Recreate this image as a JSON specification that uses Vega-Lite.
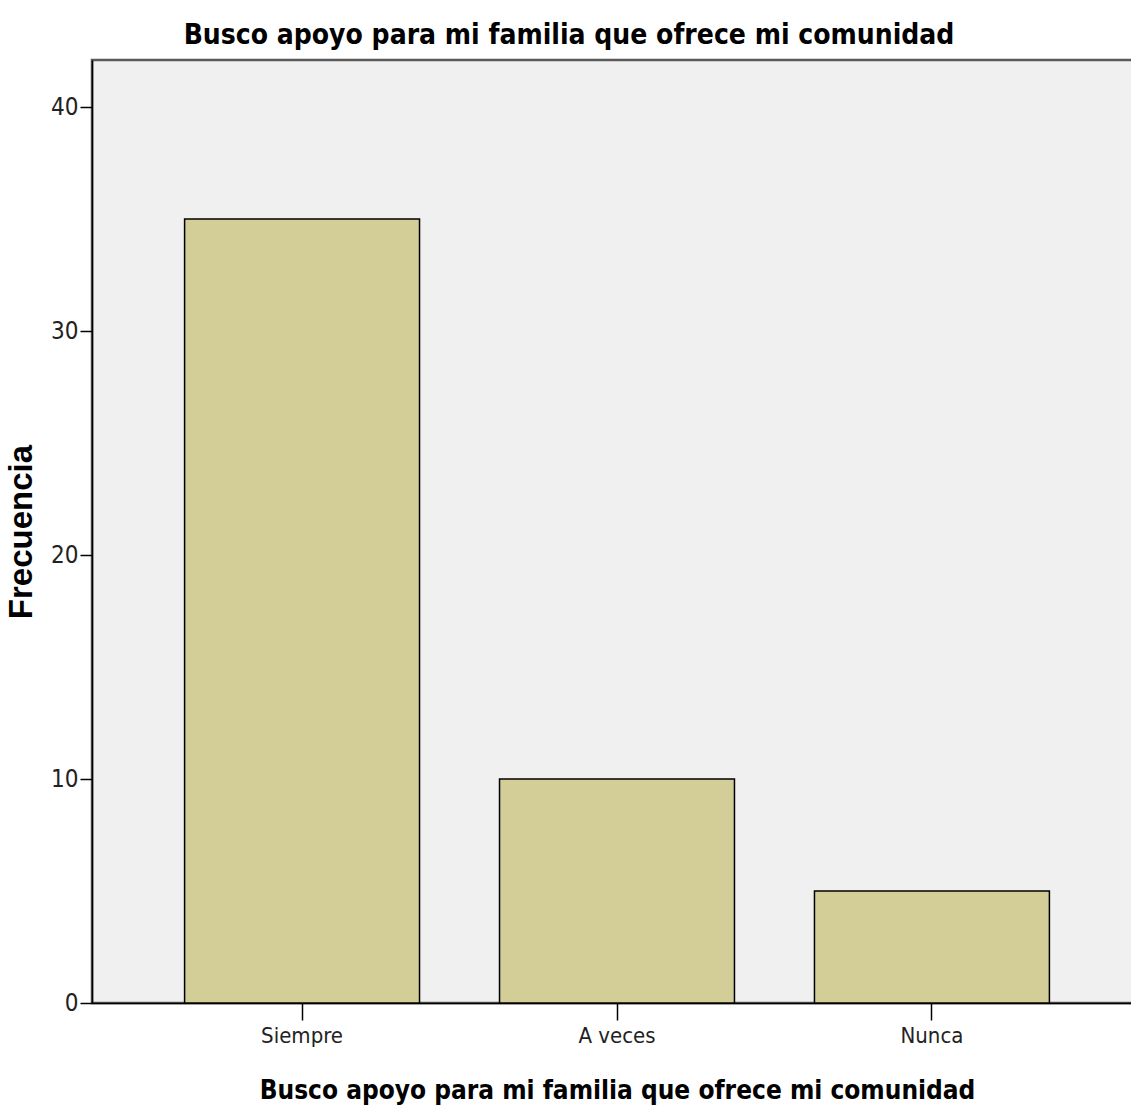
{
  "$schema": "https://vega.github.io/schema/vega-lite/v6.json",
  "width": 1050,
  "height": 943,
  "autosize": {"type": "none"},
  "padding": {"left": 92, "top": 60, "right": 0, "bottom": 108},
  "background": "white",
  "title": {
    "text": "Busco apoyo para mi familia que ofrece mi comunidad",
    "font": "Liberation Sans Narrow, DejaVu Sans Condensed, sans-serif",
    "fontSize": 28,
    "fontWeight": "bold",
    "color": "black",
    "anchor": "middle",
    "baseline": "bottom",
    "offset": -18,
    "dx": -48
  },
  "data": {
    "values": [
      {"categoria": "Siempre", "frecuencia": 35},
      {"categoria": "A veces", "frecuencia": 10},
      {"categoria": "Nunca", "frecuencia": 5}
    ]
  },
  "mark": {"type": "bar", "color": "#d3ce98", "stroke": "black", "strokeWidth": 1.5},
  "encoding": {
    "x": {
      "field": "categoria",
      "type": "nominal",
      "sort": ["Siempre", "A veces", "Nunca"],
      "scale": {"paddingInner": 0.254, "paddingOuter": 0.294},
      "axis": {
        "title": "Busco apoyo para mi familia que ofrece mi comunidad",
        "titleFont": "Liberation Sans Narrow, DejaVu Sans Condensed, sans-serif",
        "titleFontSize": 26,
        "titleFontWeight": "bold",
        "titleColor": "black",
        "titlePadding": 31,
        "labelFont": "Liberation Sans Narrow, DejaVu Sans Condensed, sans-serif",
        "labelFontSize": 22,
        "labelColor": "#222",
        "labelAngle": 0,
        "labelPadding": 5,
        "tickSize": 17,
        "tickColor": "black",
        "tickWidth": 1.5,
        "domainColor": "black",
        "domainWidth": 1.5
      }
    },
    "y": {
      "field": "frecuencia",
      "type": "quantitative",
      "scale": {"domain": [0, 42.1], "nice": false},
      "axis": {
        "title": "Frecuencia",
        "titleFont": "Liberation Sans, Arial, sans-serif",
        "titleFontSize": 33,
        "titleFontWeight": "bold",
        "titleColor": "black",
        "titlePadding": 12,
        "values": [0, 10, 20, 30, 40],
        "grid": false,
        "labelFont": "Liberation Sans Narrow, DejaVu Sans Condensed, sans-serif",
        "labelFontSize": 24,
        "labelColor": "#222",
        "labelPadding": 2,
        "tickSize": 12,
        "tickColor": "black",
        "tickWidth": 1.5,
        "domainColor": "black",
        "domainWidth": 1.5
      }
    }
  },
  "config": {
    "view": {"fill": "#f0f0f0", "stroke": "#5a5a5a", "strokeWidth": 2.5}
  }
}
